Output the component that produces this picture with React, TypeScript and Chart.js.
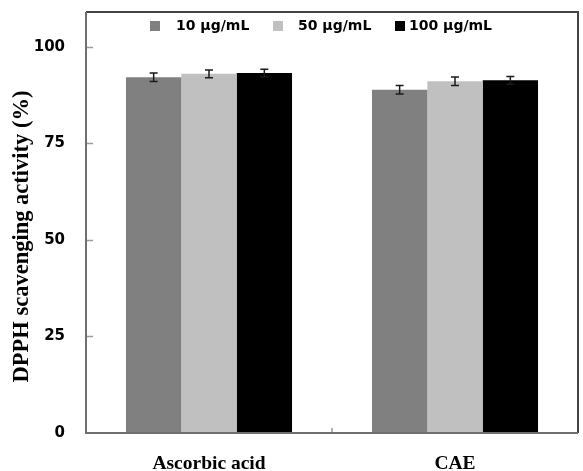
import React, { useEffect, useRef } from "react";
import { Chart, registerables } from "chart.js";

Chart.register(...registerables);

const categories = ["Ascorbic acid", "CAE"];
const seriesLabels = ["10 μg/mL", "50 μg/mL", "100 μg/mL"];
const values10 = [92.1, 88.9];
const values50 = [93.0, 91.1];
const values100 = [93.2, 91.3];
const errors10 = [1.1, 1.1];
const errors50 = [1.0, 1.1];
const errors100 = [1.0, 1.0];
const yTicks = [0, 25, 50, 75, 100];
const yTitle = "DPPH scavenging activity (%)";
const colors = ["#808080", "#c0c0c0", "#000000"];

const seriesValues = [values10, values50, values100];
const seriesErrors = [errors10, errors50, errors100];

const errorBarPlugin = {
  id: "errorBars",
  afterDatasetsDraw(chart: any) {
    const ctx = chart.ctx;
    const yScale = chart.scales.y;
    ctx.save();
    ctx.strokeStyle = "#1a1a1a";
    ctx.lineWidth = 1.5;
    chart.data.datasets.forEach((ds: any, di: number) => {
      const meta = chart.getDatasetMeta(di);
      meta.data.forEach((el: any, i: number) => {
        const v = ds.data[i];
        const e = seriesErrors[di][i];
        const x = el.x;
        const yT = yScale.getPixelForValue(v + e);
        const yB = yScale.getPixelForValue(v - e);
        ctx.beginPath();
        ctx.moveTo(x, yT);
        ctx.lineTo(x, yB);
        ctx.moveTo(x - 4, yT);
        ctx.lineTo(x + 4, yT);
        ctx.moveTo(x - 4, yB);
        ctx.lineTo(x + 4, yB);
        ctx.stroke();
      });
    });
    ctx.restore();
  },
};

const framePlugin = {
  id: "frame",
  afterDraw(chart: any) {
    const ctx = chart.ctx;
    const a = chart.chartArea;
    const yScale = chart.scales.y;
    const xScale = chart.scales.x;
    ctx.save();
    ctx.strokeStyle = "#999999";
    ctx.lineWidth = 1.5;
    yTicks.forEach((t) => {
      if (t === 0) return;
      const y = Math.round(yScale.getPixelForValue(t)) + 0.5;
      ctx.beginPath();
      ctx.moveTo(a.left, y);
      ctx.lineTo(a.left + 7, y);
      ctx.stroke();
    });
    const xm = (xScale.getPixelForValue(0) + xScale.getPixelForValue(1)) / 2;
    ctx.beginPath();
    ctx.moveTo(xm, a.bottom);
    ctx.lineTo(xm, a.bottom - 5);
    ctx.stroke();
    ctx.lineWidth = 2;
    ctx.strokeStyle = "#444444";
    ctx.beginPath();
    ctx.moveTo(a.left, a.top);
    ctx.lineTo(a.right, a.top);
    ctx.lineTo(a.right, a.bottom);
    ctx.stroke();
    ctx.strokeStyle = "#707070";
    ctx.beginPath();
    ctx.moveTo(a.left, a.top);
    ctx.lineTo(a.left, a.bottom);
    ctx.lineTo(a.right, a.bottom);
    ctx.stroke();

    const sqX = [150, 273, 395];
    const txX = [176, 298, 409];
    ctx.font = "bold 14px 'DejaVu Sans'";
    ctx.textBaseline = "middle";
    ctx.textAlign = "left";
    chart.data.datasets.forEach((ds: any, i: number) => {
      ctx.fillStyle = ds.backgroundColor;
      ctx.fillRect(sqX[i], 21, 10, 10);
      ctx.fillStyle = "#000";
      ctx.fillText(ds.label, txX[i], 26.5);
    });

    ctx.translate(22, 236.5);
    ctx.rotate(-Math.PI / 2);
    ctx.font = "bold 22.5px 'Liberation Serif'";
    ctx.textAlign = "center";
    ctx.textBaseline = "middle";
    ctx.fillStyle = "#000";
    ctx.fillText(yTitle, 0, 0);
    ctx.restore();
  },
};

export default function App() {
  const ref = useRef<HTMLCanvasElement | null>(null);
  useEffect(() => {
    if (!ref.current) return;
    const chart = new Chart(ref.current, {
      type: "bar",
      data: {
        labels: categories,
        datasets: seriesLabels.map((label, i) => ({
          label,
          data: seriesValues[i],
          backgroundColor: colors[i],
          borderWidth: 0,
          categoryPercentage: 0.675,
          barPercentage: 1.0,
        })),
      },
      options: {
        responsive: false,
        animation: false,
        devicePixelRatio: 1,
        layout: { padding: { top: 12, right: 5, left: 0, bottom: 0 } },
        plugins: {
          legend: { display: false },
          tooltip: { enabled: false },
          title: { display: false },
        },
        scales: {
          x: {
            grid: { display: false, drawTicks: false },
            border: { display: false },
            ticks: {
              color: "#000",
              font: { family: "'Liberation Serif'", size: 19.5, weight: "bold" },
              padding: 19,
              maxRotation: 0,
            },
            afterFit(scale: any) {
              scale.height = 38;
              scale.paddingLeft = 0;
              scale.paddingRight = 0;
            },
          },
          y: {
            min: 0,
            max: 109,
            grid: { display: false, drawTicks: false },
            border: { display: false },
            ticks: {
              stepSize: 25,
              color: "#000",
              font: { family: "'DejaVu Sans'", size: 15, weight: "bold" },
              padding: 21,
            },
            afterBuildTicks(scale: any) {
              scale.ticks = yTicks.map((v) => ({ value: v }));
            },
            afterFit(scale: any) {
              scale.width = 86;
              scale.paddingTop = 0;
              scale.paddingBottom = 0;
            },
          },
        },
      },
      plugins: [errorBarPlugin, framePlugin],
    } as any);
    return () => chart.destroy();
  }, []);
  return (
    <div style={{ position: "fixed", left: 0, top: 0, width: 583, height: 471, background: "#fff" }}>
      <canvas ref={ref} width={583} height={471} style={{ display: "block" }} />
    </div>
  );
}
